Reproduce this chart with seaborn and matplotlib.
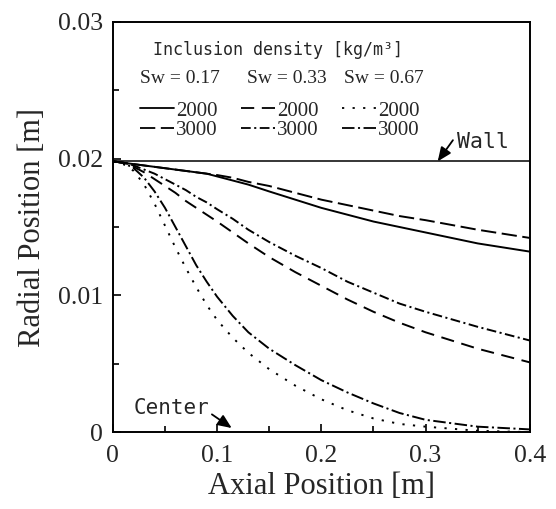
import matplotlib
matplotlib.use("Agg")
import matplotlib.pyplot as plt
import pandas as pd
import seaborn as sns
from matplotlib.lines import Line2D

# axial positions [m]
x_pos = [0, 0.01, 0.02, 0.03, 0.04, 0.05, 0.06, 0.07, 0.08, 0.09, 0.1, 0.115,
         0.13, 0.15, 0.175, 0.2, 0.225, 0.25, 0.275, 0.3, 0.35, 0.4]

# radial positions [m]
sw017_2000 = [0.0198, 0.0197, 0.0196, 0.0195, 0.0194, 0.0193, 0.0192, 0.0191, 0.0190, 0.0189, 0.0187,
              0.0184, 0.0181, 0.0176, 0.0170, 0.0164, 0.0159, 0.0154, 0.0150, 0.0146, 0.0138, 0.0132]
sw017_3000 = [0.0198, 0.0197, 0.0196, 0.0195, 0.0194, 0.0193, 0.0192, 0.0191, 0.0190, 0.0189, 0.0188,
              0.0186, 0.0183, 0.0180, 0.0175, 0.0170, 0.0166, 0.0162, 0.0158, 0.0155, 0.0148, 0.0142]
sw033_2000 = [0.0198, 0.0197, 0.0194, 0.0190, 0.0185, 0.0180, 0.0175, 0.0169, 0.0164, 0.0159, 0.0154,
              0.0146, 0.0138, 0.0128, 0.0117, 0.0107, 0.0097, 0.0088, 0.0080, 0.0073, 0.0061, 0.0051]
sw033_3000 = [0.0198, 0.0197, 0.0195, 0.0192, 0.0189, 0.0185, 0.0181, 0.0177, 0.0172, 0.0168, 0.0163,
              0.0156, 0.0148, 0.0139, 0.0129, 0.0120, 0.0110, 0.0102, 0.0094, 0.0088, 0.0077, 0.0067]
sw067_2000 = [0.0198, 0.0196, 0.0191, 0.0181, 0.0167, 0.0151, 0.0135, 0.0120, 0.0106, 0.0093, 0.0082,
              0.0069, 0.0058, 0.0046, 0.0034, 0.0024, 0.0016, 0.0010, 0.0006, 0.0004, 0.0001, 0.0000]
sw067_3000 = [0.0198, 0.0197, 0.0193, 0.0186, 0.0176, 0.0164, 0.0150, 0.0136, 0.0122, 0.0110, 0.0099,
              0.0085, 0.0073, 0.0061, 0.0049, 0.0038, 0.0029, 0.0021, 0.0014, 0.0009, 0.0004, 0.0002]

wall_y = 0.0198
sw_labels = ["Sw = 0.17", "Sw = 0.33", "Sw = 0.67"]
density_labels = ["2000", "3000"]

series = {
    "0.17-2000": sw017_2000, "0.17-3000": sw017_3000,
    "0.33-2000": sw033_2000, "0.33-3000": sw033_3000,
    "0.67-2000": sw067_2000, "0.67-3000": sw067_3000,
}
dash_map = {
    "0.17-2000": "",
    "0.17-3000": (11, 4),
    "0.33-2000": (9.5, 5.5),
    "0.33-3000": (7, 2.5, 1.5, 2.5),
    "0.67-2000": (1.6, 6.0),
    "0.67-3000": (9, 2.5, 1.5, 2.5),
}

rows = []
for name, ys in series.items():
    for xv, yv in zip(x_pos, ys):
        rows.append({"x": xv, "y": yv, "series": name})
df = pd.DataFrame(rows)


def plot():
    sns.set_style("ticks")
    plt.rcParams["font.family"] = ["Liberation Serif", "DejaVu Serif"]
    plt.rcParams["lines.scale_dashes"] = False
    plt.rcParams["axes.linewidth"] = 1.4

    fig = plt.figure(figsize=(5.56, 5.09), dpi=100)
    ax = fig.add_axes([0.203, 0.151, 0.750, 0.806])

    sns.lineplot(data=df, x="x", y="y", style="series", dashes=dash_map,
                 color="black", linewidth=1.4, legend=False, sort=False,
                 estimator=None, ax=ax)
    ax.axhline(wall_y, color="black", linewidth=1.1)

    ax.set_xlim(0, 0.4)
    ax.set_ylim(0, 0.03)
    ax.set_xticks([0, 0.1, 0.2, 0.3, 0.4])
    ax.set_xticklabels(["0", "0.1", "0.2", "0.3", "0.4"])
    ax.set_xticks([0.05, 0.15, 0.25, 0.35], minor=True)
    ax.set_yticks([0, 0.01, 0.02, 0.03])
    ax.set_yticklabels(["0", "0.01", "0.02", "0.03"])
    ax.set_yticks([0.005, 0.015, 0.025], minor=True)
    ax.tick_params(which="both", direction="in", top=False, right=False,
                   color="black", width=1.2)
    ax.tick_params(which="major", length=6, labelsize=18.5)
    ax.tick_params(which="minor", length=4)
    ax.tick_params(axis="x", pad=9)
    ax.tick_params(axis="y", pad=7)
    for s in ax.spines.values():
        s.set_visible(True)
        s.set_color("black")

    ax.set_xlabel("Axial Position [m]", fontsize=22, labelpad=4)
    ax.set_ylabel("Radial Position [m]", fontsize=22, labelpad=8)

    mono = "DejaVu Sans Mono"
    ax.text(0.096, 0.932, "Inclusion density [kg/m³]", transform=ax.transAxes,
            family=mono, fontsize=12, ha="left", va="center")
    for lbl, xa in zip(sw_labels, [0.0647, 0.321, 0.554]):
        ax.text(xa, 0.863, lbl, transform=ax.transAxes, fontsize=14,
                ha="left", va="center")

    order = ["0.17-2000", "0.17-3000", "0.33-2000", "0.33-3000",
             "0.67-2000", "0.67-3000"]
    handles = []
    for key in order:
        d = dash_map[key]
        if d == "":
            h = Line2D([], [], color="black", linewidth=1.3)
        else:
            h = Line2D([], [], color="black", linewidth=1.3, dashes=d)
        handles.append(h)
    labels = density_labels * 3
    ax.legend(handles, labels, ncol=3, loc="upper left",
              bbox_to_anchor=(0.0647, 0.807), frameon=False, fontsize=15,
              handlelength=1.63, handletextpad=0.12, columnspacing=1.1,
              labelspacing=0.0, borderpad=0, borderaxespad=0)

    arrow = dict(arrowstyle="-|>,head_length=0.7,head_width=0.3",
                 color="black", linewidth=1.3, mutation_scale=12,
                 shrinkA=0, shrinkB=0)
    ax.text(0.330, 0.02125, "Wall", family=mono, fontsize=15.5,
            ha="left", va="center")
    ax.annotate("", xy=(0.3116, 0.0198), xytext=(0.3262, 0.02135),
                arrowprops=arrow)
    ax.text(0.020, 0.0018, "Center", family=mono, fontsize=15,
            ha="left", va="center")
    ax.annotate("", xy=(0.114, 0.0003), xytext=(0.095, 0.0013),
                arrowprops=arrow)

    fig.savefig("out.png", dpi=100)


if __name__ == "__main__":
    plot()
